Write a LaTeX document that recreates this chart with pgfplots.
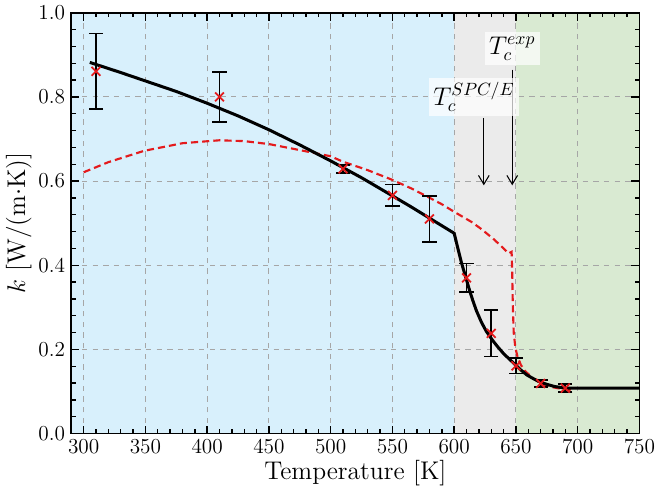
\documentclass[border=0pt]{standalone}
\usepackage{pgfplots}
\pgfplotsset{compat=1.18}
\usetikzlibrary{arrows.meta}
\definecolor{bgblue}{RGB}{216,240,252}
\definecolor{bggray}{RGB}{235,235,235}
\definecolor{bggreen}{RGB}{217,234,210}
\definecolor{dred}{RGB}{228,26,28}
\begin{document}
\begin{tikzpicture}
\begin{axis}[
  set layers,
  scale only axis,
  width=320pt, height=237pt,
  xmin=290, xmax=750, ymin=0, ymax=1,
  xtick={300,350,...,750},
  ytick={0,0.2,0.4,0.6,0.8,1.0},
  ticklabel style={font=\large},
  yticklabel style={/pgf/number format/fixed,/pgf/number format/fixed zerofill,/pgf/number format/precision=1},
  minor x tick num=4,
  minor y tick num=4,
  tick align=inside,
  major tick length=4.5pt,
  minor tick length=2.5pt,
  tick style={black, line width=0.8pt},
  axis line style={line width=1pt},
  grid=major,
  major grid style={gray!70, dashed, line width=0.5pt},
  xlabel={\Large Temperature [K]},
  ylabel={\Large $k$ [W/(m$\cdot$K)]},
  xlabel style={yshift=3pt},
  ylabel style={yshift=-3pt},
]
\begin{pgfonlayer}{axis background}
\fill[bgblue] (axis cs:290,0) rectangle (axis cs:600,1);
\fill[bggray] (axis cs:600,0) rectangle (axis cs:650,1);
\fill[bggreen] (axis cs:650,0) rectangle (axis cs:750,1);
\end{pgfonlayer}

% red dashed curve
\addplot[dred, line width=1.2pt, dash pattern=on 4pt off 2.3pt] coordinates {
(300,0.621) (320,0.645) (349,0.672) (380,0.690) (410,0.697) (430,0.695) (450,0.688)
(471,0.676) (500,0.659) (510,0.646) (530,0.626) (549,0.604) (565,0.583) (579,0.562)
(590,0.545) (600,0.527) (614,0.503) (622,0.486) (632,0.462) (640,0.440) (644,0.428)
(646.5,0.432) (647,0.38) (647.5,0.30) (648.2,0.24) (649.5,0.205) (651.3,0.182)
(654,0.163) (657,0.150) (663,0.133) (670,0.119) (680,0.110) (689,0.105) (697,0.102)
};

% black solid curve
\addplot[black, line width=1.7pt] coordinates {
(305,0.882) (330,0.858) (350,0.838) (375,0.813) (400,0.785) (425,0.755) (450,0.722)
(475,0.686) (500,0.648) (525,0.608) (550,0.565) (565,0.539) (580,0.512) (590,0.494) (600,0.476)
(602,0.452) (604,0.428) (606,0.405) (608,0.385) (610,0.365) (612.5,0.340) (615,0.317)
(618,0.292) (622,0.265) (626,0.243) (631,0.222) (635,0.207) (640,0.190) (645,0.176)
(649,0.165) (654,0.151) (659,0.139) (665,0.129) (670,0.122) (675,0.117) (681,0.112)
(690,0.108) (750,0.108)
};

% simulation points with error bars
\addplot[only marks, mark=x, mark size=3.5pt, mark options={dred, line width=1pt},
  error bars/.cd, y dir=both, y explicit,
  error bar style={black, line width=1pt},
  error mark options={rotate=90, mark size=4pt, black, line width=1pt}]
  table[x=x, y=y, y error=e] {
x y e
310 0.861 0.090
410 0.800 0.060
510 0.629 0.010
550 0.566 0.026
580 0.510 0.055
610 0.370 0.034
630 0.238 0.055
650 0.161 0.018
670 0.119 0.009
690 0.108 0.010
};

% annotations
\draw[-{Straight Barb[length=5pt,width=6pt]}, black, line width=0.6pt] (axis cs:647,0.865) -- (axis cs:647,0.59);
\draw[-{Straight Barb[length=5pt,width=6pt]}, black, line width=0.6pt] (axis cs:624,0.75) -- (axis cs:624,0.59);
\node[fill=white, fill opacity=0.7, text opacity=1, inner sep=2.5pt] at (axis cs:647,0.915) {\Large $T_c^{exp}$};
\node[fill=white, fill opacity=0.7, text opacity=1, inner sep=2.5pt] at (axis cs:616,0.800) {\Large $T_c^{SPC/E}$};
\end{axis}
\end{tikzpicture}
\end{document}
